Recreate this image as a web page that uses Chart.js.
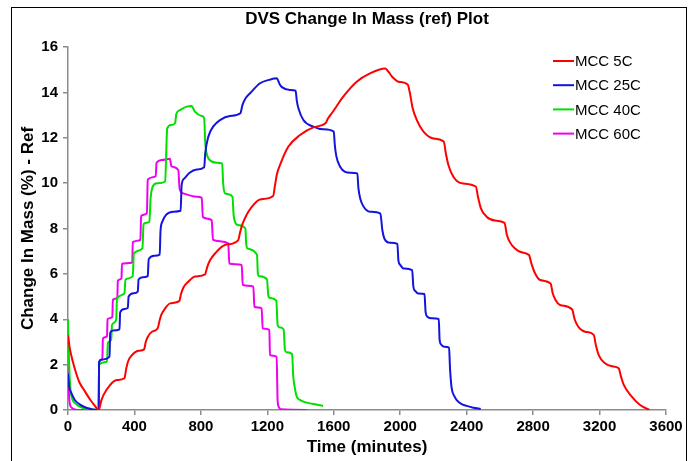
<!DOCTYPE html>
<html>
<head>
<meta charset="utf-8">
<script src="https://cdn.jsdelivr.net/npm/chart.js@4.4.1/dist/chart.umd.min.js"></script>
<style>
  html, body { margin: 0; padding: 0; background: #fff; overflow: hidden; }
  #wrap { position: relative; width: 694px; height: 461px; }
  #frame { position: absolute; left: 11px; top: 7px; width: 676px; height: 480px; border: 1px solid #000; box-sizing: border-box; }
  #dvs { position: absolute; left: 0; top: 0; }
</style>
</head>
<body>
<div id="wrap">
  <div id="frame"></div>
  <canvas id="dvs" width="694" height="461"></canvas>
</div>
<script>
// [time (min), change in mass (%)]
const mcc5C = [
  [0,3.3],[10,2.75],[20,2.4],[32,2.05],[50,1.6],[70,1.2],[95,0.9],[135,0.44],[160,0.2],[185,0],
  [200,0.4],[215,0.68],[253,1.1],[293,1.32],[340,1.4],[350,1.8],[362,2.15],[385,2.42],[423,2.61],[458,2.67],
  [468,3.0],[480,3.22],[505,3.45],[540,3.6],[550,3.9],[562,4.2],[585,4.48],[615,4.7],[670,4.8],
  [680,5.1],[695,5.4],[725,5.66],[765,5.88],[825,5.98],[838,6.3],[855,6.6],[885,6.9],[945,7.27],[1025,7.49],
  [1035,7.8],[1048,8.15],[1075,8.6],[1100,8.89],[1156,9.28],[1235,9.43],[1245,9.85],[1258,10.4],[1280,10.87],
  [1326,11.6],[1397,12.12],[1477,12.46],[1550,12.64],[1565,12.85],[1590,13.1],[1658,13.82],[1738,14.47],
  [1818,14.84],[1910,15.05],[1930,14.9],[1950,14.7],[1990,14.47],[2045,14.35],[2060,13.9],[2075,13.3],
  [2100,12.78],[2140,12.27],[2200,11.97],[2262,11.83],[2275,11.3],[2290,10.8],[2320,10.28],[2370,9.99],
  [2455,9.85],[2468,9.4],[2485,8.9],[2520,8.52],[2570,8.35],[2628,8.25],[2641,7.75],[2660,7.4],[2691,7.12],
  [2730,6.95],[2775,6.83],[2790,6.45],[2810,6.05],[2842,5.73],[2905,5.58],[2918,5.15],[2935,4.85],[2962,4.63],
  [3035,4.43],[3050,4.0],[3072,3.67],[3113,3.45],[3165,3.31],[3178,2.85],[3195,2.42],[3233,2.06],[3275,1.93],
  [3315,1.84],[3330,1.45],[3345,1.12],[3394,0.59],[3444,0.22],[3500,0]
];
const mcc25C = [
  [0,1.6],[8,1.0],[20,0.75],[40,0.45],[70,0.25],[110,0.1],[185,0],[187,2.1],[200,2.22],[250,2.35],
  [254,3.4],[270,3.5],[310,3.55],[314,4.3],[340,4.45],[360,4.5],[365,5.0],[395,5.15],[420,5.22],[425,5.75],
  [450,5.85],[480,5.9],[486,6.65],[520,6.8],[552,6.85],[557,7.9],[568,8.3],[590,8.6],[634,8.74],[678,8.78],
  [684,9.9],[700,10.2],[730,10.45],[775,10.6],[820,10.7],[826,11.3],[845,12.05],[875,12.5],[915,12.78],
  [975,12.96],[1038,13.08],[1050,13.44],[1070,13.75],[1096,13.96],[1156,14.4],[1210,14.55],[1256,14.62],
  [1275,14.35],[1290,14.22],[1337,14.1],[1370,14.07],[1378,13.6],[1387,13.3],[1417,12.78],[1477,12.49],
  [1537,12.37],[1600,12.27],[1606,11.7],[1615,11.2],[1638,10.72],[1698,10.46],[1742,10.43],[1748,9.8],
  [1760,9.3],[1780,8.96],[1818,8.74],[1880,8.67],[1893,7.9],[1905,7.55],[1939,7.37],[1983,7.32],[1989,6.6],
  [2000,6.4],[2019,6.24],[2072,6.17],[2079,5.45],[2090,5.25],[2109,5.14],[2146,5.11],[2153,4.3],[2165,4.1],
  [2190,4.04],[2232,4.01],[2237,3.1],[2245,2.9],[2265,2.79],[2294,2.75],[2300,1.8],[2310,0.95],[2325,0.62],
  [2340,0.44],[2370,0.26],[2400,0.18],[2440,0.1],[2485,0.05]
];
const mcc40C = [
  [0,4.0],[3,3.0],[8,1.8],[15,0.9],[25,0.5],[45,0.28],[90,0.08],[150,0.02],[185,0],[187,2.0],[235,2.13],
  [240,2.95],[260,3.1],[265,3.75],[290,3.97],[295,4.9],[340,5.14],[346,5.75],[390,5.9],[396,6.9],[448,7.12],
  [455,8.2],[490,8.3],[497,9.3],[510,9.84],[535,9.99],[585,10.07],[592,11.5],[597,12.4],[620,12.56],[645,12.65],
  [652,13.05],[674,13.22],[714,13.37],[744,13.4],[764,13.15],[805,12.96],[820,12.86],[826,11.8],[832,11.4],
  [845,11.09],[895,10.9],[928,10.87],[934,10.0],[945,9.55],[990,9.4],[997,8.6],[1005,8.3],[1025,8.15],
  [1068,8.0],[1072,7.4],[1080,7.12],[1138,6.83],[1143,6.0],[1150,5.9],[1198,5.76],[1205,5.1],[1212,4.95],
  [1254,4.82],[1262,3.75],[1270,3.65],[1298,3.56],[1306,2.65],[1315,2.55],[1349,2.47],[1356,1.5],[1365,1.0],
  [1377,0.59],[1395,0.45],[1417,0.37],[1477,0.26],[1535,0.18]
];
const mcc60C = [
  [0,2.0],[4,1.0],[10,0.3],[20,0.12],[35,0.04],[60,0],[185,0],[187,2.1],[207,2.25],[210,3.15],[235,3.25],
  [238,4.0],[267,4.1],[270,4.85],[297,4.95],[300,5.7],[322,5.8],[325,6.45],[387,6.5],[390,7.4],[436,7.5],
  [440,8.55],[475,8.67],[480,10.15],[528,10.3],[533,10.9],[564,11.02],[614,11.07],[622,10.75],[664,10.58],
  [672,9.75],[694,9.55],[775,9.4],[805,9.35],[812,8.5],[865,8.37],[873,7.5],[965,7.34],[971,6.46],[1046,6.39],
  [1052,5.51],[1116,5.44],[1122,4.55],[1166,4.48],[1172,3.6],[1212,3.53],[1216,2.42],[1256,2.35],[1262,0.4],
  [1270,0.12],[1280,0.03],[1440,0]
];
const seriesNames = ['MCC 5C', 'MCC 25C', 'MCC 40C', 'MCC 60C'];
const seriesColors = ['#ff0000', '#1414dc', '#00e000', '#f000f0'];
const xTicks = [0, 400, 800, 1200, 1600, 2000, 2400, 2800, 3200, 3600];
const yTicks = [0, 2, 4, 6, 8, 10, 12, 14, 16];

const FONT = '"Liberation Sans", Arial, sans-serif';
const AXIS = '#8c8c8c';

// legend drawn top-right inside the plot, short line + label
const sideLegend = {
  id: 'sideLegend',
  afterDraw(chart) {
    const ctx = chart.ctx;
    ctx.save();
    ctx.font = '15px ' + FONT;
    ctx.textBaseline = 'middle';
    chart.data.datasets.forEach((ds, i) => {
      const y = 61 + i * 24.2;
      ctx.strokeStyle = ds.borderColor;
      ctx.lineWidth = 2;
      ctx.beginPath(); ctx.moveTo(553, y); ctx.lineTo(574, y); ctx.stroke();
      ctx.fillStyle = '#000';
      ctx.fillText(ds.label, 575, y + 1);
    });
    ctx.restore();
  }
};

const all = [mcc5C, mcc25C, mcc40C, mcc60C];

new Chart(document.getElementById('dvs'), {
  type: 'scatter',
  data: {
    datasets: all.map((rows, i) => ({
      label: seriesNames[i],
      data: rows.map(r => ({ x: r[0], y: r[1] })),
      showLine: true,
      borderColor: seriesColors[i],
      backgroundColor: seriesColors[i],
      borderWidth: 2,
      pointRadius: 0,
      cubicInterpolationMode: 'monotone'
    }))
  },
  options: {
    responsive: false,
    animation: false,
    layout: { padding: { left: 0, right: 28, top: 0, bottom: 0 } },
    plugins: {
      legend: { display: false },
      tooltip: { enabled: false },
      title: {
        display: true,
        fullSize: false,
        text: 'DVS Change In Mass (ref) Plot',
        color: '#000',
        font: { family: FONT, size: 17, weight: 'bold' },
        padding: { top: 9, bottom: 17.6 }
      }
    },
    scales: {
      x: {
        type: 'linear', min: 0, max: 3600,
        afterBuildTicks: s => { s.ticks = xTicks.map(v => ({ value: v })); },
        afterFit: s => { s.height = 51; },
        ticks: {
          color: '#000', font: { family: FONT, size: 15, weight: 'bold' }, padding: 3, maxRotation: 0,
          callback: v => String(v)
        },
        grid: { drawOnChartArea: false, drawTicks: true, tickLength: 5, color: AXIS, lineWidth: 1.5 },
        border: { display: true, color: AXIS, width: 1.5 },
        title: {
          display: true, text: 'Time (minutes)', color: '#000',
          font: { family: FONT, size: 17, weight: 'bold' }, padding: { top: 0, bottom: 3 }
        }
      },
      y: {
        type: 'linear', min: 0, max: 16,
        afterBuildTicks: s => { s.ticks = yTicks.map(v => ({ value: v })); },
        afterFit: s => { s.width = 68; },
        ticks: {
          color: '#000', font: { family: FONT, size: 15, weight: 'bold' }, padding: 5,
          callback: v => String(v)
        },
        grid: { drawOnChartArea: false, drawTicks: true, tickLength: 5, color: AXIS, lineWidth: 1.5 },
        border: { display: true, color: AXIS, width: 1.5 },
        title: {
          display: true, text: 'Change In Mass (%) - Ref', color: '#000',
          font: { family: FONT, size: 17, weight: 'bold' }, padding: { top: 18, bottom: 0 }
        }
      }
    }
  },
  plugins: [sideLegend]
});
</script>
</body>
</html>
